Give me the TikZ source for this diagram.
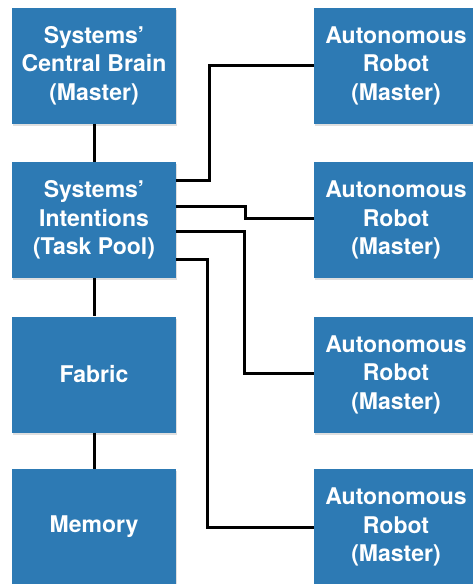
\documentclass[tikz,border=0pt]{standalone}
\usepackage{fontspec}
\setmainfont{TeX Gyre Heros}
\usetikzlibrary{shadows}
\definecolor{boxblue}{RGB}{45,122,180}
\tikzset{
  block/.style={fill=boxblue, text=white, font=\bfseries\fontsize{23}{28.5}\selectfont,
    align=center, minimum width=164pt, minimum height=116pt, inner sep=0pt,
    drop shadow={opacity=0.25, shadow xshift=1pt, shadow yshift=-2pt}},
  link/.style={line width=3pt, black}
}
\begin{document}
\begin{tikzpicture}[x=1pt, y=-1pt]
  \useasboundingbox (0,0) rectangle (473,584);
  % left column
  \node[block] (brain)  at (94,65.5)  {Systems'\\Central Brain\\(Master)};
  \node[block] (intent) at (94,220)   {Systems'\\Intentions\\(Task Pool)};
  \node[block] (fabric) at (94,374.5) {Fabric};
  \node[block] (memory) at (94,527)   {Memory};
  % right column of robots
  \node[block] (r1) at (396,65.5)  {Autonomous\\Robot\\(Master)};
  \node[block] (r2) at (396,220)   {Autonomous\\Robot\\(Master)};
  \node[block] (r3) at (396,374.5) {Autonomous\\Robot\\(Master)};
  \node[block] (r4) at (396,527)   {Autonomous\\Robot\\(Master)};
  % vertical chain
  \draw[link] (brain) -- (intent);
  \draw[link] (intent) -- (fabric);
  \draw[link] (fabric) -- (memory);
  % task pool to robots
  \draw[link] ([yshift=40pt]intent.east) -- ++(33,0) |- (r1.west);
  \draw[link] ([yshift=14pt]intent.east) -- ++(69,0) |- ([yshift=2pt]r2.west);
  \draw[link] ([yshift=-11pt]intent.east) -- ++(68,0) |- ([yshift=1.5pt]r3.west);
  \draw[link] ([yshift=-39pt]intent.east) -- ++(31,0) |- (r4.west);
\end{tikzpicture}
\end{document}
